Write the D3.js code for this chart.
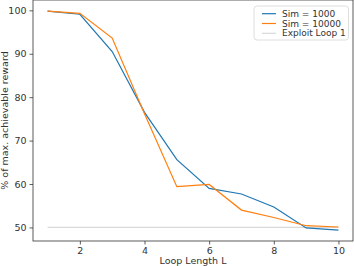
<!DOCTYPE html>
<html>
<head>
<meta charset="utf-8">
<script src="https://cdn.jsdelivr.net/npm/d3@7"></script>
<style>
body { margin: 0; background: #fff; }
svg { display: block; font-family: "DejaVu Sans", sans-serif; }
</style>
</head>
<body>
<div id="chart"></div>
<script>
var loopLengths = [1, 2, 3, 4, 5, 6, 7, 8, 9, 10];
var sim1000 = [99.8, 99.1, 90.5, 76.5, 65.6, 59.0, 57.7, 54.7, 49.9, 49.4];
var sim10000 = [99.8, 99.3, 93.6, 76.2, 59.4, 59.9, 54.0, 52.3, 50.4, 50.1];
var exploitLoop1 = [50, 50, 50, 50, 50, 50, 50, 50, 50, 50];
var xTicks = [2, 4, 6, 8, 10];
var yTicks = [50, 60, 70, 80, 90, 100];

var series = [
    {name: "Sim = 1000", values: sim1000, color: "#1f77b4"},
    {name: "Sim = 10000", values: sim10000, color: "#ff7f0e"},
    {name: "Exploit Loop 1", values: exploitLoop1, color: "#d9d9d9"}
];

var margin = {top: 0, right: 1, bottom: 25, left: 33},
    width = 354 - margin.left - margin.right,
    height = 266 - margin.top - margin.bottom;

var svg = d3.select("#chart").append("svg")
    .attr("width", 354)
    .attr("height", 266)
  .append("g")
    .attr("transform", "translate(" + margin.left + "," + margin.top + ")");

var x = d3.scaleLinear().domain([0.55, 10.45]).range([0, width]);
var y = d3.scaleLinear().domain([46.88, 102.38]).range([height, 0]);

var line = d3.line()
    .x(function(d, i) { return x(loopLengths[i]); })
    .y(function(d) { return y(d); });

// draw gray first so it sits below
[series[2], series[0], series[1]].forEach(function(s) {
    svg.append("path")
        .datum(s.values)
        .attr("fill", "none")
        .attr("stroke", s.color)
        .attr("stroke-width", 1.2)
        .attr("d", line);
});

var xaxis = svg.append("g")
    .attr("transform", "translate(0," + height + ")")
    .call(d3.axisBottom(x).tickValues(xTicks).tickSize(3.5).tickPadding(3));
var yaxis = svg.append("g")
    .call(d3.axisLeft(y).tickValues(yTicks).tickSize(3.5).tickPadding(3));

[xaxis, yaxis].forEach(function(a) {
    a.select(".domain").remove();
    a.selectAll("line").attr("stroke", "#333").attr("stroke-width", 0.8);
    a.selectAll("text").attr("fill", "#333").style("font-size", "9.5px").style("font-family", "DejaVu Sans");
});

// frame
svg.append("rect")
    .attr("x", 0).attr("y", 0)
    .attr("width", width).attr("height", height)
    .attr("fill", "none")
    .attr("stroke", "#333")
    .attr("stroke-width", 0.8);

svg.append("text")
    .attr("x", width / 2)
    .attr("y", height + 23)
    .attr("text-anchor", "middle")
    .attr("fill", "#333")
    .style("font-size", "9.5px")
    .text("Loop Length L");

svg.append("text")
    .attr("transform", "rotate(-90)")
    .attr("x", -height / 2)
    .attr("y", -25)
    .attr("text-anchor", "middle")
    .attr("fill", "#333")
    .style("font-size", "9.5px")
    .text("% of max. achievable reward");

// legend
var legend = svg.append("g")
    .attr("transform", "translate(" + (254 - margin.left) + ",6)");
legend.append("rect")
    .attr("width", 94.5).attr("height", 34)
    .attr("rx", 3)
    .attr("fill", "#fff")
    .attr("fill-opacity", 0.8)
    .attr("stroke", "#d6d6d6")
    .attr("stroke-width", 0.8);
series.forEach(function(s, i) {
    var g = legend.append("g").attr("transform", "translate(0," + (7.7 + i * 9.8) + ")");
    g.append("line")
        .attr("x1", 8).attr("x2", 22)
        .attr("stroke", s.color).attr("stroke-width", 1.2);
    g.append("text")
        .attr("x", 28)
        .attr("dy", "0.35em")
        .attr("fill", "#333")
        .style("font-size", "9px")
        .text(s.name);
});
</script>
</body>
</html>
